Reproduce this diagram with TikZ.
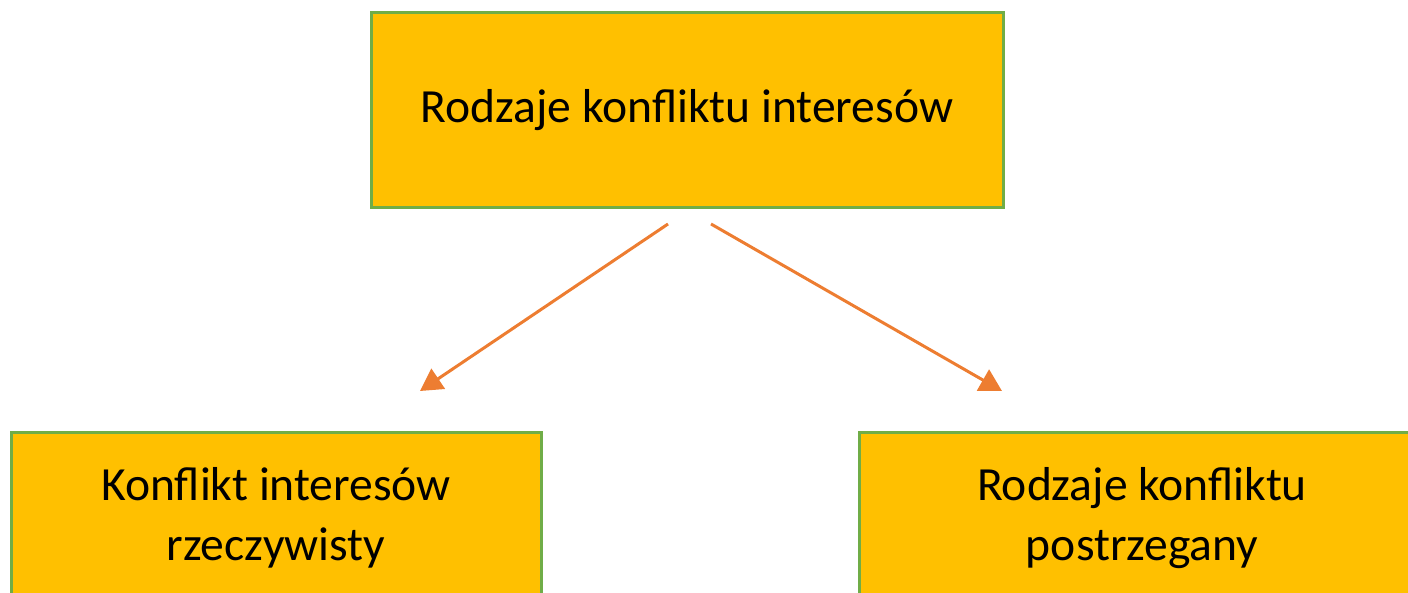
\documentclass[tikz,border=0pt]{standalone}
\usepackage{fontspec}
\setmainfont{Carlito}
\usepackage{xcolor}
\usetikzlibrary{arrows.meta,positioning}
\definecolor{mgold}{HTML}{FFC000}
\definecolor{mgreen}{HTML}{70AD47}
\definecolor{morange}{HTML}{ED7D31}
\tikzstyle{l2}=[line width=1.5pt]
\tikzstyle{kbox}=[rectangle, draw=mgreen, fill=mgold, l2, inner sep=0pt, align=center, font=\fontsize{23.8}{30}\selectfont]
\tikzstyle{link}=[line width=1.5pt, color=morange, -{Triangle[length=11pt,width=12pt]}]

\begin{document}
\begin{tikzpicture}[x=0.5pt, y=-0.5pt]
    \clip (0,0) rectangle (1408,593);

    \node (top) [kbox, minimum width=316pt, minimum height=97.5pt] at (687,110) {Rodzaje konfliktu interesów};
    \node (real) [kbox, minimum width=265pt, minimum height=86pt] at (276,518) {Konflikt interesów\\rzeczywisty};
    \node (seen) [kbox, minimum width=283pt, minimum height=86pt] at (1142,518) {Rodzaje konfliktu\\postrzegany};

    \coordinate (s1) at (668,224);
    \coordinate (e1) at (420,391);
    \coordinate (s2) at (711,224);
    \coordinate (e2) at (1002,391);
    \draw[link] (s1) -- (e1);
    \draw[link] (s2) -- (e2);
\end{tikzpicture}
\end{document}
